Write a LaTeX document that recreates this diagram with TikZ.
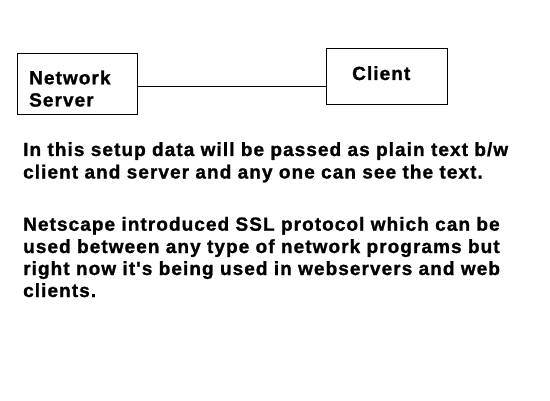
\documentclass[tikz,border=0pt]{standalone}
\usepackage{fontspec}
\newfontfamily\bodyfont{Liberation Sans Bold}[LetterSpace=5.6,FakeBold=1.2]
\begin{document}
\begin{tikzpicture}[x=1pt,y=1pt,
  box/.style={draw=black,line width=1pt,rectangle,inner sep=0pt},
  lbl/.style={anchor=base west,inner sep=0pt,font=\bodyfont\fontsize{19}{22}\selectfont},
  link/.style={draw=black,line width=1pt}]
\useasboundingbox (0,0) rectangle (550,400);
\node[box,minimum width=120pt,minimum height=61pt] (ns) at (77,315.5) {};
\node[box,minimum width=121pt,minimum height=56pt] (cl) at (386.5,323) {};
\node[lbl] (nsa) at (29,315.7) {Network};
\node[lbl] (nsb) at (29,293.5) {Server};
\node[lbl] (cll) at (352,320) {Client};
\draw[link] (ns.east |- 0,313.3) -- (cl.west |- 0,313.3);
\node[lbl] (p1) at (23,244) {In this setup data will be passed as plain text b/w};
\node[lbl] (p2) at (23,221.5) {client and server and any one can see the text.};
\node[lbl] (p3) at (23,169.3) {Netscape introduced SSL protocol which can be};
\node[lbl] (p4) at (23,147) {used between any type of network programs but};
\node[lbl] (p5) at (23,125) {right now it's being used in webservers and web};
\node[lbl] (p6) at (23,103) {clients.};
\end{tikzpicture}
\end{document}
